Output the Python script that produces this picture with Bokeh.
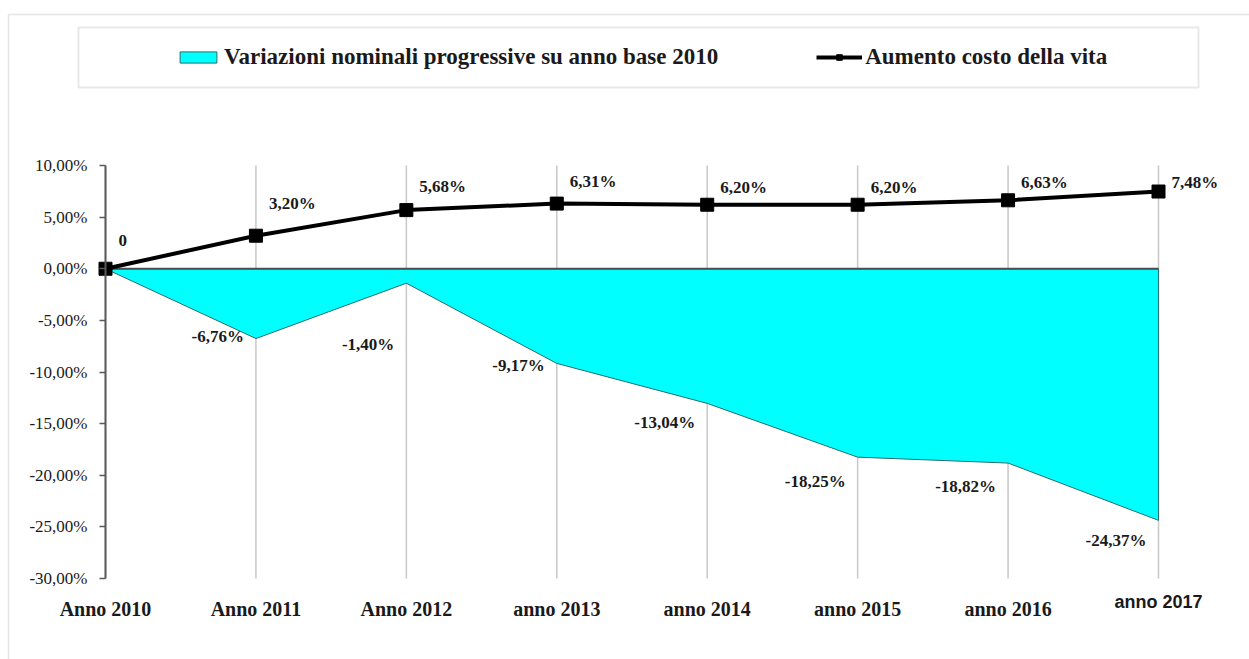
from bokeh.plotting import figure
from bokeh.models import (Range1d, FixedTicker, Legend, LegendItem, LabelSet,
                          ColumnDataSource, BoxAnnotation, LinearAxis)
from bokeh.core.properties import value
from bokeh.embed import file_html
from bokeh.resources import INLINE

# ---------------- data ----------------
categories = ["Anno 2010", "Anno 2011", "Anno 2012", "anno 2013",
              "anno 2014", "anno 2015", "anno 2016", "anno 2017"]
variazioni = [0.0, -6.76, -1.40, -9.17, -13.04, -18.25, -18.82, -24.37]
costo_vita = [0.0, 3.20, 5.68, 6.31, 6.20, 6.20, 6.63, 7.48]
variazioni_labels = ["", "-6,76%", "-1,40%", "-9,17%", "-13,04%", "-18,25%", "-18,82%", "-24,37%"]
costo_labels = ["0", "3,20%", "5,68%", "6,31%", "6,20%", "6,20%", "6,63%", "7,48%"]
y_ticks = [10, 5, 0, -5, -10, -15, -20, -25, -30]
y_tick_labels = ["10,00%", "5,00%", "0,00%", "-5,00%", "-10,00%", "-15,00%",
                 "-20,00%", "-25,00%", "-30,00%"]
series_names = ["Variazioni nominali progressive su anno base 2010",
                "Aumento costo della vita"]

# label placement (screen offsets, y up)
costo_label_dy = [28, 32, 24, 22, 17, 17, 18, 9]
variazioni_label_dy = [0, 2, -61, -2, -19, -24, -23, -20]

# ---------------- layout (pixels) ----------------
W, H = 1249, 659
PLOT_L, PLOT_R, PLOT_T, PLOT_B = 105, 1158, 165, 578   # plotting area in canvas px

SERIF = "Liberation Serif"
SANS = "Liberation Sans"
TXT = "#1a1a1a"

xs = list(range(len(categories)))
y_lo, y_hi = min(y_ticks), max(y_ticks)
ppx = (PLOT_R - PLOT_L) / (xs[-1] - xs[0])
ppy = (PLOT_B - PLOT_T) / (y_hi - y_lo)
x_range = Range1d(xs[0] - PLOT_L / ppx, xs[-1] + (W - PLOT_R) / ppx)
y_range = Range1d(y_lo - (H - PLOT_B) / ppy, y_hi + PLOT_T / ppy)

p = figure(width=W, height=H, output_backend="svg", toolbar_location=None,
           x_range=x_range, y_range=y_range, x_axis_location=None, y_axis_location=None,
           min_border=0)
p.outline_line_color = None
p.background_fill_color = "white"
p.border_fill_color = "white"
p.xgrid.grid_line_color = None
p.ygrid.grid_line_color = None

# y axis, fixed at the first category
ya = LinearAxis(fixed_location=xs[0], bounds=(y_lo, y_hi),
                ticker=FixedTicker(ticks=y_ticks))
ya.major_label_overrides = {t: l for t, l in zip(y_ticks, y_tick_labels)}
ya.axis_line_color = "#5a5a5a"
ya.axis_line_width = 2
ya.major_tick_line_color = "#5a5a5a"
ya.major_tick_line_width = 1.5
ya.major_tick_out = 6
ya.major_tick_in = 0
ya.minor_tick_line_color = None
ya.major_label_standoff = 12
ya.major_label_text_font = SERIF
ya.major_label_text_font_style = "normal"
ya.major_label_text_font_size = "17px"
ya.major_label_text_color = TXT
p.add_layout(ya, "left")

# x axes, fixed at the bottom of the value range
def cat_axis(ticks, font, size, standoff):
    ax = LinearAxis(fixed_location=y_lo, ticker=FixedTicker(ticks=ticks))
    ax.major_label_overrides = {i: categories[i] for i in ticks}
    ax.axis_line_color = None
    ax.major_tick_line_color = None
    ax.minor_tick_line_color = None
    ax.major_label_standoff = standoff
    ax.major_label_text_font = font
    ax.major_label_text_font_style = "bold"
    ax.major_label_text_font_size = size
    ax.major_label_text_color = TXT
    return ax

p.add_layout(cat_axis(xs[:-1], SERIF, "20px", 13), "below")
p.add_layout(cat_axis(xs[-1:], SANS, "18px", 7), "below")

# vertical grid lines over the value range
n = len(xs)
p.segment(x0=xs, y0=[y_lo] * n, x1=xs, y1=[y_hi] * n, line_color="#c8c8c8", line_width=1.5)

# area series
px = xs + xs[::-1]
py = variazioni + [0.0] * n
area = p.patch(px, py, fill_color="#00FFFF", line_color="#2e6b6b", line_width=1)

# zero axis line
p.line(xs, [0.0] * n, line_color="#4d4d4d", line_width=2)

# line series
line_r = p.line(xs, costo_vita, line_color="black", line_width=4)
sq = p.scatter(xs, costo_vita, marker="square", size=13, color="black")

# data labels
src_c = ColumnDataSource(dict(x=xs, y=costo_vita, t=costo_labels, dy=costo_label_dy))
p.add_layout(LabelSet(x="x", y="y", text="t", source=src_c, x_offset=13, y_offset="dy",
                      text_align="left", text_baseline="middle",
                      text_font=value(SERIF), text_font_style="bold",
                      text_font_size="17px", text_color=TXT))
src_v = ColumnDataSource(dict(x=xs, y=variazioni, t=variazioni_labels, dy=variazioni_label_dy))
p.add_layout(LabelSet(x="x", y="y", text="t", source=src_v, x_offset=-12, y_offset="dy",
                      text_align="right", text_baseline="middle",
                      text_font=value(SERIF), text_font_style="bold",
                      text_font_size="17px", text_color=TXT))

# outer border and legend box (screen px, origin bottom-left)
p.add_layout(BoxAnnotation(left=8, right=W + 50, top=H - 14, bottom=-50,
                           left_units="screen", right_units="screen",
                           top_units="screen", bottom_units="screen",
                           fill_color=None, fill_alpha=0, line_color="#a8a8a8", line_width=1.5))
p.add_layout(BoxAnnotation(left=78, right=1198, top=H - 27, bottom=H - 87,
                           left_units="screen", right_units="screen",
                           top_units="screen", bottom_units="screen",
                           fill_color=None, fill_alpha=0, line_color="#b4b4b4", line_width=2))

legend = Legend(items=[LegendItem(label=series_names[0], renderers=[area]),
                       LegendItem(label=series_names[1], renderers=[line_r, sq])],
                orientation="horizontal", location=(175, H - 70))
legend.padding = 0
legend.margin = 0
legend.spacing = 98
legend.glyph_width = 46
legend.glyph_height = 14
legend.label_standoff = 3
legend.label_text_font = SERIF
legend.label_text_font_style = "bold"
legend.label_text_font_size = "23px"
legend.label_text_color = TXT
legend.border_line_color = None
legend.background_fill_alpha = 0
p.add_layout(legend)

open("out.html", "w").write(file_html(p, INLINE))
